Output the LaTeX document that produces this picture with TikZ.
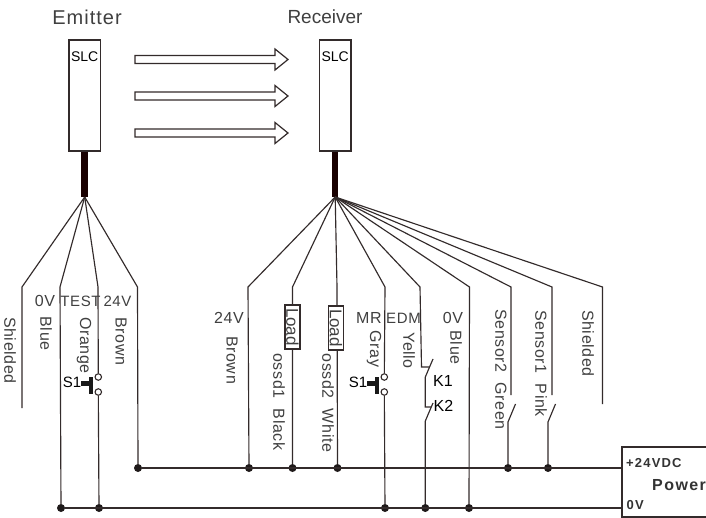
\documentclass[tikz,border=0pt]{standalone}
\usepackage{fontspec}
\setmainfont{Liberation Sans}
\newfontfamily\labfont[LetterSpace=4]{Liberation Sans}
\newfontfamily\headfont[LetterSpace=5]{Liberation Sans}
\newfontfamily\pwrfont[LetterSpace=9]{Liberation Sans}
\definecolor{wire}{HTML}{332B2B}
\definecolor{labtext}{HTML}{404040}
\tikzset{
  wireline/.style={draw=wire,line width=1.15pt,line join=miter},
  busline/.style={draw=wire,line width=1.3pt},
  cable/.style={draw=black!90!red,line width=6.5pt},
  sensorbox/.style={draw=wire,line width=1.1pt,fill=white,minimum width=31.5pt,minimum height=111pt,inner sep=0pt},
  loadbox/.style={draw=wire,line width=1.3pt,fill=white,minimum width=44pt,minimum height=15pt,inner sep=0pt,rotate=-90,text=labtext,font=\fontsize{17}{17}\selectfont},
  head/.style={text=labtext,font=\fontsize{20}{20}\headfont,inner sep=0pt},
  lab/.style={text=labtext,font=\fontsize{16}{16}\labfont,inner sep=0pt},
  rlab/.style={lab,rotate=-90},
  tag/.style={text=black,font=\fontsize{15}{15}\selectfont,inner sep=0pt},
  pwr/.style={text=black!80,font=\fontsize{13}{13}\pwrfont\bfseries,inner sep=0pt},
  dot/.style={circle,fill=wire!60!black,draw=none,minimum size=8pt,inner sep=0pt},
  contact/.style={circle,draw=wire,fill=white,line width=1.1pt,minimum size=6.5pt,inner sep=0pt},
  beam/.style={draw=wire,line width=1.2pt,fill=white,line join=miter},
}
\newcommand{\beamarrow}[1]{%
  \path[beam] (135,#1-4) -- (275,#1-4) -- (275,#1-10.5) -- (288,#1) -- (275,#1+10.5) -- (275,#1+4) -- (135,#1+4) -- cycle;}
\newcommand{\pushbtn}[3]{% name, wire x, label x
  \fill[black!90] (#2-9,376.5) rectangle (#2-5.5,393.5);
  \fill[black!90] (#2-17,380.5) rectangle (#2-9,386);
  \node[tag] (#1) at (#3,382) {S1};}
\begin{document}
\begin{tikzpicture}[x=1pt,y=-1pt]
\useasboundingbox (0,0) rectangle (706,518);
\fill[white] (0,0) rectangle (706,518);
% titles
\node[head] (emtitle) at (87,17) {Emitter};
\node[head,font=\fontsize{19}{19}\selectfont] (rxtitle) at (325,17) {Receiver};
% sensors
\node[sensorbox] (em) at (84.7,95.5) {};
\node[sensorbox] (rx) at (335.2,95.5) {};
\node[tag,font=\fontsize{14}{14}\selectfont] (emslc) at (84.7,57) {SLC};
\node[tag,font=\fontsize{14}{14}\selectfont] (rxslc) at (335.2,57) {SLC};
\coordinate (ehub) at (84.7,197);
\coordinate (rhub) at (335.2,197);
\draw[cable] (em.south) -- (ehub);
\draw[cable] (rx.south) -- (rhub);
% beams
\beamarrow{59.5}
\beamarrow{96}
\beamarrow{133}
% bus junctions
\node[dot] (b24) at (138,468) {};
\node[dot] (r24) at (249,468) {};
\node[dot] (oss1) at (292.5,468) {};
\node[dot] (oss2) at (337.5,468) {};
\node[dot] (s2j) at (508,468) {};
\node[dot] (s1j) at (548,468) {};
\node[dot] (g1) at (61,508) {};
\node[dot] (g2) at (99,508) {};
\node[dot] (g3) at (385,508) {};
\node[dot] (g4) at (425.3,508) {};
\node[dot] (g5) at (469,508) {};
% power
\draw[draw=wire,line width=1.3pt] (706,447) -- (622,447) -- (622,517) -- (706,517);
\coordinate (p24) at (622,468);
\coordinate (p0) at (622,508);
\draw[busline] (b24) -- (p24);
\draw[busline] (g1) -- (p0);
\node[pwr,anchor=west] (pv) at (626,463) {+24VDC};
\node[pwr,anchor=west,font=\fontsize{16}{16}\pwrfont\bfseries] (pname) at (652,485) {Power};
\node[pwr,anchor=west] (p0v) at (626.5,505) {0V};
% emitter wires
\coordinate (eend) at (22,408);
\draw[wireline] (ehub) -- (22,287) -- (eend);
\draw[wireline] (ehub) -- (60,287) -- (g1);
\node[contact] (et1) at (98.3,377) {};
\node[contact] (et2) at (98.3,392) {};
\draw[wireline] (ehub) -- (98,287) -- (et1);
\draw[wireline] (et2) -- (g2);
\draw[wireline] (ehub) -- (137.5,287) -- (b24);
\pushbtn{es1}{98.3}{72}
% receiver wires
\draw[wireline] (rhub) -- (248,287) -- (r24);
\draw[wireline] (rhub) -- (292.5,287) -- (oss1);
\draw[wireline] (rhub) -- (337,287) -- (oss2);
\node[loadbox] (l1) at (292.5,327) {Load};
\node[loadbox] (l2) at (336,328) {Load};
\node[contact] (rt1) at (384.3,377) {};
\node[contact] (rt2) at (384.3,392) {};
\draw[wireline] (rhub) -- (385,287) -- (rt1);
\draw[wireline] (rt2) -- (g3);
\pushbtn{rs1}{384.3}{358}
% EDM contacts
\coordinate (k1a) at (433,359);
\coordinate (k1b) at (425.3,377);
\coordinate (k2a) at (433,403);
\coordinate (k2b) at (425.3,421);
\draw[wireline] (rhub) -- (420,287) -- (421.5,367) -- (429.5,367);
\draw[wireline] (k1a) -- (k1b) -- (425.3,407) -- (431,407);
\draw[wireline] (k2a) -- (k2b) -- (g4);
% 0V
\draw[wireline] (rhub) -- (469.5,287) -- (g5);
% sensors
\coordinate (s2t) at (511,395);
\coordinate (s1t) at (552,395);
\coordinate (shd) at (602.5,404);
\draw[wireline] (rhub) -- (511,287) -- (s2t);
\draw[wireline] (rhub) -- (552,287) -- (s1t);
\draw[wireline] (rhub) -- (602.5,287) -- (shd);
\draw[wireline] (515.5,404) -- (508,422) -- (s2j);
\draw[wireline] (555.5,404) -- (548,422) -- (s1j);
% labels
\node[rlab] (t1) at (10,350.5) {Shielded};
\node[lab] (t2) at (45,301) {0V};
\node[lab,font=\fontsize{15}{15}\labfont] (t3) at (80.5,301) {TEST};
\node[lab,font=\fontsize{15}{15}\labfont] (t4) at (117.5,301) {24V};
\node[rlab] (t5) at (46,333.5) {Blue};
\node[rlab] (t6) at (84,345.5) {Orange};
\node[rlab] (t7) at (121,341.5) {Brown};
\node[lab] (t8) at (229,318) {24V};
\node[rlab] (t9) at (232,360) {Brown};
\node[rlab] (t10) at (279,402) {ossd1 \ Black};
\node[rlab] (t11) at (328,403) {ossd2 \ White};
\node[lab] (t12) at (369,318) {MR};
\node[lab,font=\fontsize{15}{15}\labfont] (t13) at (403.5,318) {EDM};
\node[rlab] (t14) at (374,349) {Gray};
\node[rlab] (t15) at (409,350.5) {Yello};
\node[lab] (t16) at (453,318) {0V};
\node[rlab] (t17) at (456,347.5) {Blue};
\node[rlab] (t18) at (501,369.5) {Sensor2 \ Green};
\node[rlab] (t19) at (541,363.5) {Sensor1 \ Pink};
\node[rlab] (t20) at (588,343.5) {Shielded};
\node[tag,font=\fontsize{16}{16}\selectfont] (k1) at (443,381) {K1};
\node[tag,font=\fontsize{16}{16}\selectfont] (k2) at (443.5,406) {K2};
\end{tikzpicture}
\end{document}
